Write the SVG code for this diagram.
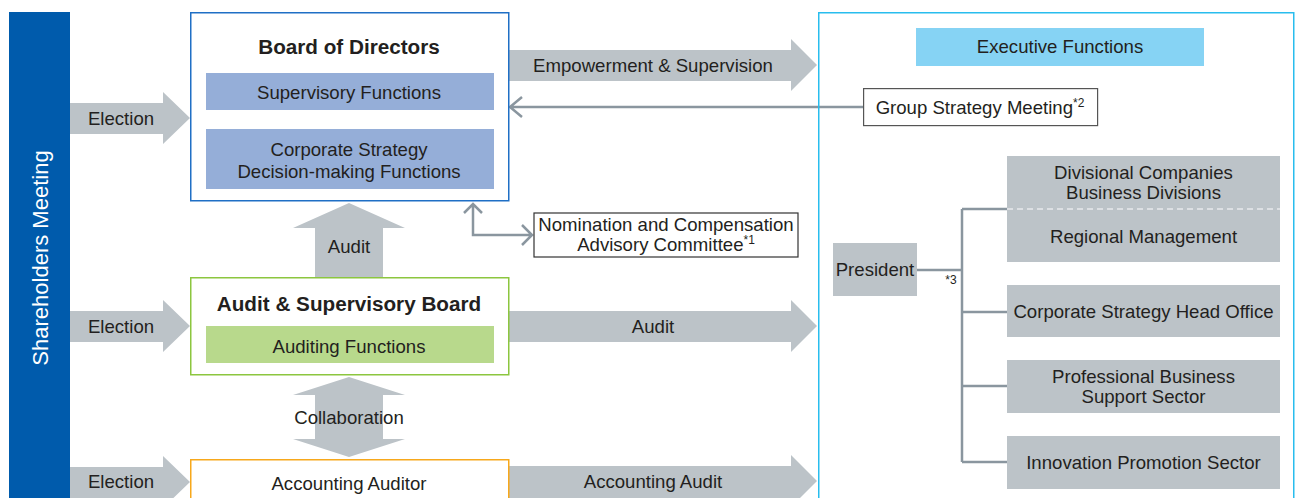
<svg xmlns="http://www.w3.org/2000/svg" width="1295" height="498" viewBox="0 0 1295 498">
<style>
text{font-family:"Liberation Sans",Arial,Helvetica,sans-serif;fill:#231f20;font-size:18.6px;text-anchor:middle}
.b{font-weight:bold;font-size:20.7px}
.sup{font-size:12px}
.arr{fill:#bcc3c8}
.gbox{fill:#bcc3c8}
.ln{fill:none;stroke:#8a969f;stroke-width:2.5}
</style>
<rect width="1295" height="498" fill="#fff"/>

<g id="shareholders">
<rect x="9" y="12" width="61" height="490" fill="#005bac"/>
<text transform="translate(47.5,258) rotate(-90)" style="fill:#fff;font-size:22px">Shareholders Meeting</text>
</g>

<g id="connectors">
<polygon class="arr" points="70,103 163,103 163,92 190,118 163,144 163,134 70,134"/>
<text x="121" y="124.5">Election</text>
<polygon class="arr" points="70,311 163,311 163,300 190,326 163,352 163,342 70,342"/>
<text x="121" y="332.5">Election</text>
<polygon class="arr" points="70,467 163,467 163,456 190,482 163,508 163,498 70,498"/>
<text x="121" y="488">Election</text>

<polygon class="arr" points="509,50 791,50 791,39 817,65 791,91 791,81 509,81"/>
<text x="653" y="71.5">Empowerment &amp; Supervision</text>
<polygon class="arr" points="509,311 791,311 791,300 817,326 791,352 791,342 509,342"/>
<text x="653" y="332.5">Audit</text>
<polygon class="arr" points="509,466 791,466 791,455 817,481 791,507 791,498 509,498"/>
<text x="653" y="488">Accounting Audit</text>

<polygon class="arr" points="315,277 315,228 293,228 349,203 405,228 383,228 383,277"/>
<text x="349" y="253">Audit</text>
<polygon class="arr" points="349,377 405,395 383,395 383,439 405,439 349,457 293,439 315,439 315,395 293,395"/>
<text x="349" y="423.5">Collaboration</text>

<path class="ln" d="M863,107 H510 M522,97 L510,107 L522,117"/>
<path class="ln" d="M473,204 V235 H532 M464,213 L473,204 L482,213 M522,225 L532,235 L522,245"/>
<path class="ln" d="M917,270 H962 M962,209 V462 M962,209 H1007 M962,312 H1007 M962,386 H1007 M962,462 H1007"/>
<text class="sup" x="951" y="284">*3</text>
</g>

<g id="board">
<rect x="190.75" y="12.75" width="318" height="188" fill="#fff" stroke="#1f6fc5" stroke-width="1.5"/>
<text class="b" x="349" y="54">Board of Directors</text>
<rect x="206" y="73" width="288" height="37" fill="#95aed8"/>
<text x="349" y="98.5">Supervisory Functions</text>
<rect x="206" y="129" width="288" height="60" fill="#95aed8"/>
<text x="349" y="156">Corporate Strategy</text>
<text x="349" y="178">Decision-making Functions</text>
</g>

<g id="audit-board">
<rect x="190.75" y="277.75" width="318" height="97" fill="#fff" stroke="#8cc63f" stroke-width="1.5"/>
<text class="b" x="349" y="311">Audit &amp; Supervisory Board</text>
<rect x="206" y="326" width="288" height="37" fill="#b8d98c"/>
<text x="349" y="353">Auditing Functions</text>
</g>

<g id="accounting-auditor">
<rect x="190.75" y="459.75" width="318" height="50" fill="#fff" stroke="#f7a81b" stroke-width="1.5"/>
<text x="349" y="490">Accounting Auditor</text>
</g>

<g id="nomination">
<rect x="534" y="213" width="264" height="44" fill="#fff" stroke="#333" stroke-width="1.2"/>
<text x="666" y="231">Nomination and Compensation</text>
<text x="666" y="251">Advisory Committee<tspan class="sup" dy="-7">*1</tspan></text>
</g>

<g id="executive">
<rect x="818.75" y="12.75" width="475" height="495" fill="none" stroke="#29bdee" stroke-width="1.5"/>
<rect x="916" y="28" width="288" height="38" fill="#86d3f4"/>
<text x="1060" y="53">Executive Functions</text>
</g>

<g id="group-strategy">
<rect x="863.6" y="88.6" width="234" height="37" fill="#fff" stroke="#555" stroke-width="1.2"/>
<text x="980" y="114">Group Strategy Meeting<tspan class="sup" dy="-7">*2</tspan></text>
</g>

<g id="president">
<rect x="833" y="243" width="84" height="53" class="gbox"/>
<text x="875" y="276">President</text>
</g>

<g id="divisional">
<rect x="1007" y="156" width="273" height="106" class="gbox"/>
<line x1="1007" y1="209" x2="1280" y2="209" stroke="#e6e9ec" stroke-width="1.5" stroke-dasharray="6,4"/>
<text x="1143.5" y="179">Divisional Companies</text>
<text x="1143.5" y="199">Business Divisions</text>
<text x="1143.5" y="243">Regional Management</text>
</g>

<g id="corporate-strategy-ho">
<rect x="1007" y="285" width="273" height="52" class="gbox"/>
<text x="1143.5" y="318">Corporate Strategy Head Office</text>
</g>

<g id="professional">
<rect x="1007" y="360" width="273" height="53" class="gbox"/>
<text x="1143.5" y="383">Professional Business</text>
<text x="1143.5" y="403">Support Sector</text>
</g>

<g id="innovation">
<rect x="1007" y="436" width="273" height="53" class="gbox"/>
<text x="1143.5" y="469">Innovation Promotion Sector</text>
</g>
</svg>
